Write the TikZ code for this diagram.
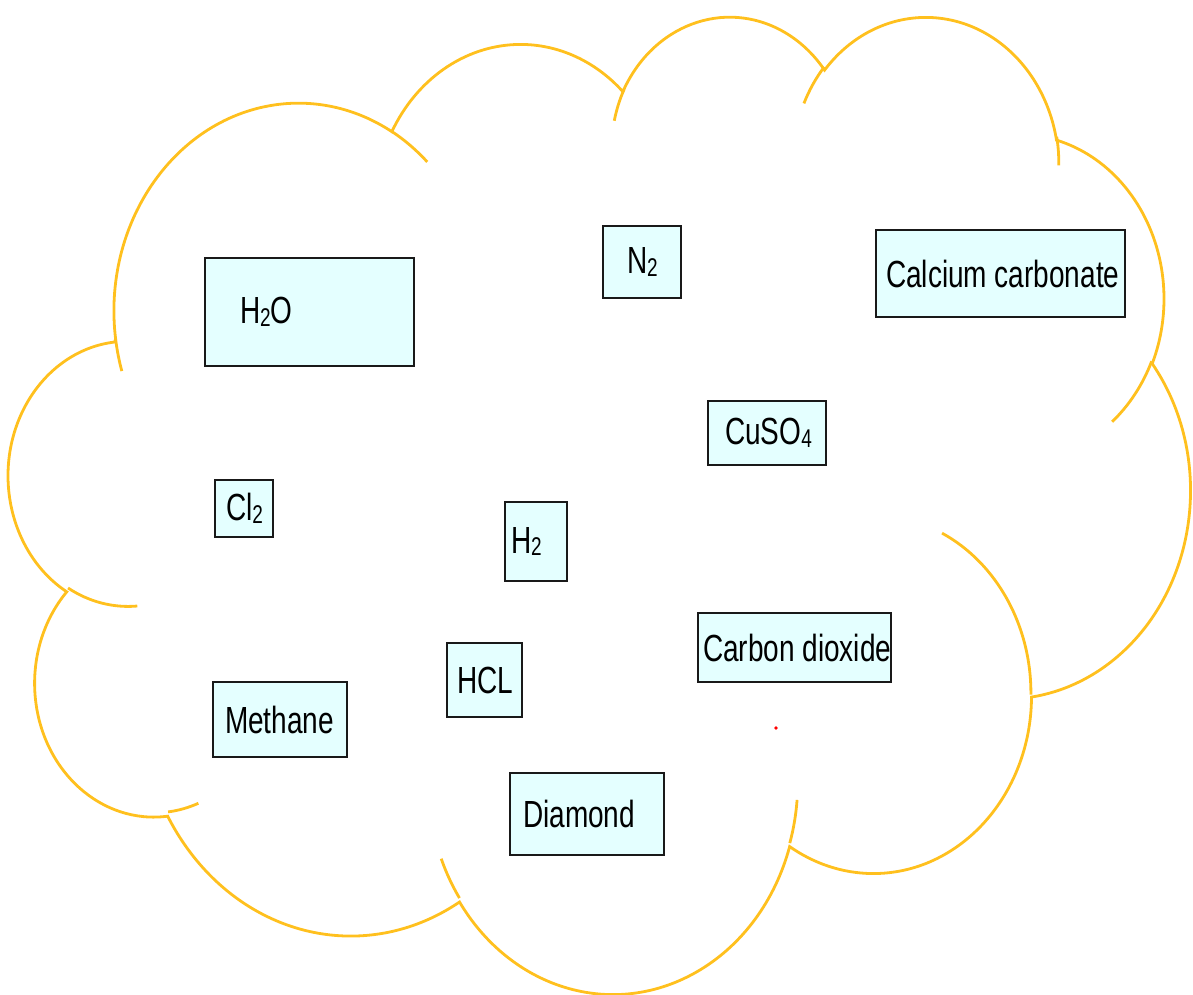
\documentclass[tikz,border=0pt]{standalone}
\usepackage{fontspec}
\setmainfont{Liberation Sans}
\usepackage{graphicx}
\definecolor{cloudc}{RGB}{255,192,30}
\definecolor{boxfill}{RGB}{228,255,255}
\definecolor{boxline}{RGB}{25,25,25}
\newcommand\lbl[3]{\makebox[#1pt][l]{\hspace*{#2pt}\scalebox{1}[1.35]{#3}}}
\newcommand\sbs[1]{\raisebox{-0.07em}{\fontsize{19}{20}\selectfont #1}}
\begin{document}
\begin{tikzpicture}[x=1pt,y=-1pt,
  declare function={pang(\qa,\qb,\qc)=atan2(\qa*sin(\qc),\qb*cos(\qc));
                    pdel(\qa,\qb,\qc,\qd)=mod(pang(\qa,\qb,\qc+\qd)-pang(\qa,\qb,\qc)+720,360);},
  box/.style={draw=boxline, line width=2.9pt, fill=boxfill, inner sep=0pt,
              font=\fontsize{28}{33}\selectfont, text=black},
  cloudline/.style={draw=cloudc, line width=2.8pt}]
\useasboundingbox (0,0) rectangle (1193,994);
\begin{scope}[shift={(9,14)}, x={(2.7338pt,0pt)}, y={(0pt,-2.26157pt)}]
\draw[cloudline] (39.00,143.70)
  arc[x radius=67.53, y radius=91.90, start angle={pang(67.53,91.90,-190.48748)}, delta angle={pdel(67.53,91.90,-190.48748,123.78053)}]
  arc[x radius=53.33, y radius=72.67, start angle={pang(53.33,72.67,-144.10238)}, delta angle={pdel(53.33,72.67,-144.10238,89.94523)}]
  arc[x radius=43.65, y radius=59.45, start angle={pang(43.65,59.45,-145.80792)}, delta angle={pdel(43.65,59.45,-145.80792,99.72302)}]
  arc[x radius=48.57, y radius=65.95, start angle={pang(48.57,65.95,-130.98607)}, delta angle={pdel(48.57,65.95,-130.98607,117.24173)}]
  arc[x radius=53.33, y radius=72.73, start angle={pang(53.33,72.73,-78.70888)}, delta angle={pdel(53.33,72.73,-78.70888,109.02692)}]
  arc[x radius=67.75, y radius=92.20, start angle={pang(67.75,92.20,-46.26725)}, delta angle={pdel(67.75,92.20,-46.26725,130.269)}]
  arc[x radius=57.85, y radius=78.67, start angle={pang(57.85,78.67,0.62502)}, delta angle={pdel(57.85,78.67,0.62502,114.03333)}]
  arc[x radius=67.52, y radius=92.15, start angle={pang(67.52,92.15,22.4516)}, delta angle={pdel(67.52,92.15,22.4516,115.17255)}]
  arc[x radius=77.20, y radius=105.43, start angle={pang(77.20,105.43,66.24263)}, delta angle={pdel(77.20,105.43,66.24263,75.71102)}]
  arc[x radius=43.60, y radius=59.18, start angle={pang(43.60,59.18,-274.94208)}, delta angle={pdel(43.60,59.18,-274.94208,146.73557)}]
  arc[x radius=43.45, y radius=59.45, start angle={pang(43.45,59.45,-246.8285)}, delta angle={pdel(43.45,59.45,-246.8285,152.51885)}]
  -- cycle;
\draw[cloudline]
  (46.93,261.77) arc[x radius=43.45, y radius=59.45, start angle={pang(43.45,59.45,86.742)}, delta angle={pdel(43.45,59.45,86.742,26.4295)}]
  (69.28,348.99) arc[x radius=43.60, y radius=59.18, start angle={pang(43.60,59.18,73.61047)}, delta angle={pdel(43.60,59.18,73.61047,11.44747)}]
  (164.78,390.90) arc[x radius=67.52, y radius=92.15, start angle={pang(67.52,92.15,137.62415)}, delta angle={pdel(67.52,92.15,137.62415,14.0811)}]
  (288.27,347.51) arc[x radius=67.52, y radius=92.15, start angle={pang(67.52,92.15,6.45327)}, delta angle={pdel(67.52,92.15,6.45327,15.99835)}]
  (341.29,229.54) arc[x radius=57.85, y radius=78.67, start angle={pang(57.85,78.67,-70.29235)}, delta angle={pdel(57.85,78.67,-70.29235,70.91737)}]
  (417.98,153.54) arc[x radius=53.33, y radius=72.73, start angle={pang(53.33,72.73,30.31803)}, delta angle={pdel(53.33,72.73,30.31803,27.7515)}]
  (383.24,54.26) arc[x radius=48.57, y radius=65.95, start angle={pang(48.57,65.95,-13.74433)}, delta angle={pdel(48.57,65.95,-13.74433,14.8589)}]
  (290.78,39.52) arc[x radius=48.57, y radius=65.95, start angle={pang(48.57,65.95,-149.18145)}, delta angle={pdel(48.57,65.95,-149.18145,18.19537)}]
  (221.41,47.20) arc[x radius=43.65, y radius=59.45, start angle={pang(43.65,59.45,-163.49427)}, delta angle={pdel(43.65,59.45,-163.49427,17.68635)}]
  (140.00,51.92) arc[x radius=67.53, y radius=91.90, start angle={pang(67.53,91.90,-66.70695)}, delta angle={pdel(67.53,91.90,-66.70695,12.31935)}]
  (41.27,157.89) arc[x radius=67.53, y radius=91.90, start angle={pang(67.53,91.90,157.65435)}, delta angle={pdel(67.53,91.90,157.65435,11.85817)}];
\end{scope}
\node[box, minimum height=108pt] (h2o) at (309.5,312) {\lbl{209}{35}{H\sbs{2}O}};
\node[box, minimum height=72pt] (n2) at (642,262) {\lbl{78}{24}{N\sbs{2}}};
\node[box, minimum height=87pt] (caco3) at (1000.5,273.5) {\lbl{249}{10}{Calcium carbonate}};
\node[box, minimum height=64pt] (cuso4) at (767,433) {\lbl{118}{17}{CuSO\sbs{4}}};
\node[box, minimum height=57pt] (cl2) at (244,508.5) {\lbl{58}{11}{Cl\sbs{2}}};
\node[box, minimum height=79pt] (h2) at (536,541.5) {\lbl{62}{6}{H\sbs{2}}};
\node[box, minimum height=69pt] (co2) at (794.5,647.5) {\lbl{193}{5}{Carbon dioxide}};
\node[box, minimum height=74pt] (hcl) at (484.5,680) {\lbl{75}{10}{HCL}};
\node[box, minimum height=75pt] (ch4) at (280,719.5) {\lbl{134}{12}{Methane}};
\node[box, minimum height=82pt] (diamond) at (587,814) {\lbl{154}{13}{Diamond}};
\fill[red] (776,728) circle[radius=1.8];
\end{tikzpicture}
\end{document}
